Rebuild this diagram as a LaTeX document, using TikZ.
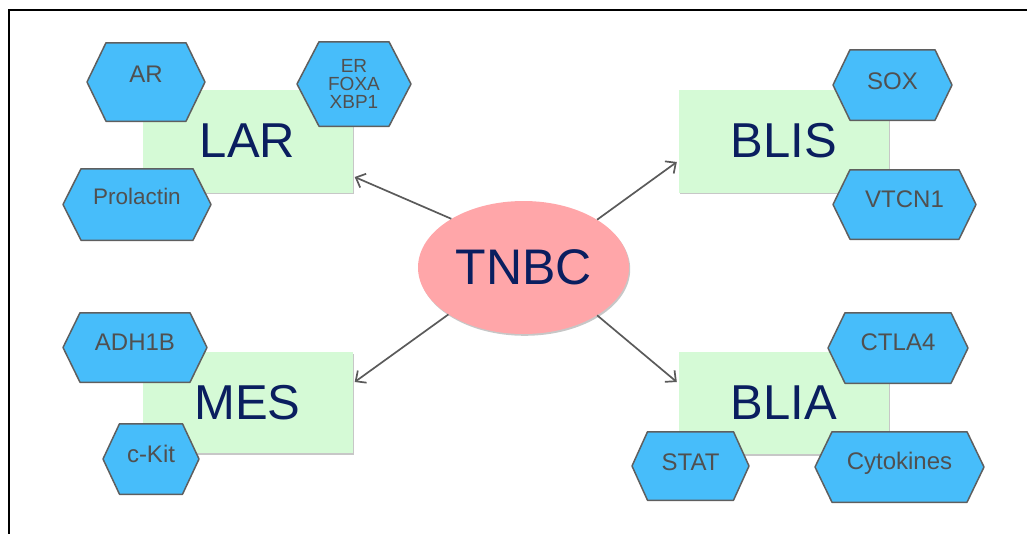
\documentclass[tikz,border=0pt]{standalone}
\usepackage{fontspec}
\setmainfont{Liberation Sans}
\usetikzlibrary{arrows.meta,shadows,shapes.geometric}

\definecolor{hexfill}{RGB}{71,189,250}
\definecolor{hexline}{RGB}{95,95,95}
\definecolor{hextext}{RGB}{80,80,80}
\definecolor{boxfill}{RGB}{213,250,214}
\definecolor{navy}{RGB}{10,30,95}
\definecolor{pinkfill}{RGB}{255,166,169}
\definecolor{arrowgray}{RGB}{90,90,90}

\tikzset{
  softshadow/.style={drop shadow={shadow xshift=1.2pt, shadow yshift=-1.8pt, opacity=0.22, fill=black}},
  subtype/.style={fill=boxfill, draw=none, minimum width=210pt, minimum height=103pt,
    inner sep=0pt, text=navy, font=\fontsize{49}{49}\selectfont, softshadow},
  core/.style={ellipse, fill=pinkfill, draw=none, minimum width=211pt, minimum height=133pt,
    inner sep=0pt, text=navy, font=\fontsize{50}{50}\selectfont, softshadow},
  link/.style={draw=arrowgray, line width=1.7pt,
    -{Straight Barb[length=8pt, width=15pt, line width=1.7pt]}},
  % hexagonal marker: width / height / corner indent
  hexa/.style args={#1/#2/#3}{
    minimum width=#1, minimum height=#2, inner sep=0pt, text=hextext,
    font=\fontsize{24}{24}\selectfont,
    path picture={
      \path[fill=hexfill, draw=hexline, line width=1.5pt, line join=round]
        ([xshift=1pt]path picture bounding box.west)
        -- ([xshift=#3, yshift=-0.75pt]path picture bounding box.north west)
        -- ([xshift=-#3, yshift=-0.75pt]path picture bounding box.north east)
        -- ([xshift=-1pt]path picture bounding box.east)
        -- ([xshift=-#3, yshift=0.75pt]path picture bounding box.south east)
        -- ([xshift=#3, yshift=0.75pt]path picture bounding box.south west)
        -- cycle;
    }
  },
  % single-line marker text, raised by half of the given depth
  raised/.style={text height=17.2pt, text depth=#1}
}

\begin{document}
\begin{tikzpicture}[x=1pt, y=-1pt]
  \useasboundingbox (0,0) rectangle (1027,533);
  \clip (0,0) rectangle (1027,533);

  % frame
  \draw[line width=1.5pt, black] (9,10) rectangle (1100,600);

  % subtype boxes
  \node[subtype] (lar)  at (247.5,141)   {LAR};
  \node[subtype] (blis) at (784,141)     {BLIS};
  \node[subtype, minimum height=101pt] (mes)  at (247.5,402.5) {MES};
  \node[subtype, minimum height=102pt] (blia) at (784,403)     {BLIA};

  % central disease node
  \node[core] (tnbc) at (523.5,267.5) {TNBC};

  % links from TNBC to its subtypes
  \draw[link] (tnbc.146)   -- ([xshift=2pt, yshift=-36pt]lar.east);
  \draw[link] (tnbc.212)   -- ([xshift=2pt, yshift=20.5pt]mes.east);
  \draw[link] (tnbc.33)    -- ([xshift=-2pt, yshift=-21pt]blis.west);
  \draw[link] (tnbc.327.5) -- ([xshift=-2pt, yshift=21pt]blia.west);

  % markers around LAR
  \node[hexa={120pt/80pt/20pt}, raised=16pt] (ar) at (146,82) {AR};
  \node[hexa={116pt/86pt/23pt}, align=center,
        font=\fontsize{19}{18}\selectfont] (er) at (354,84) {ER\\FOXA\\XBP1};
  \node[hexa={150pt/73pt/19pt}, raised=17pt,
        font=\fontsize{22.5}{22.5}\selectfont] (prl) at (137,204.5) {Prolactin};

  % markers around BLIS
  \node[hexa={121pt/72pt/18pt}, raised=8pt] (sox) at (892.5,85) {SOX};
  \node[hexa={145pt/71pt/18pt}, raised=11pt] (vtcn) at (904.5,204.5) {VTCN1};

  % markers around MES
  \node[hexa={146pt/71pt/18pt}, raised=11pt] (adh) at (135,347.5) {ADH1B};
  \node[hexa={98pt/72pt/17.5pt}, raised=10pt] (ckit) at (151,459) {c-Kit};

  % markers around BLIA
  \node[hexa={142pt/72pt/18pt}, raised=12pt] (ctla) at (898,348) {CTLA4};
  \node[hexa={119pt/70pt/16.5pt}, raised=9pt] (stat) at (690.5,466) {STAT};
  \node[hexa={171pt/72pt/18pt}, raised=12pt] (cyto) at (899.5,467) {Cytokines};
\end{tikzpicture}
\end{document}
